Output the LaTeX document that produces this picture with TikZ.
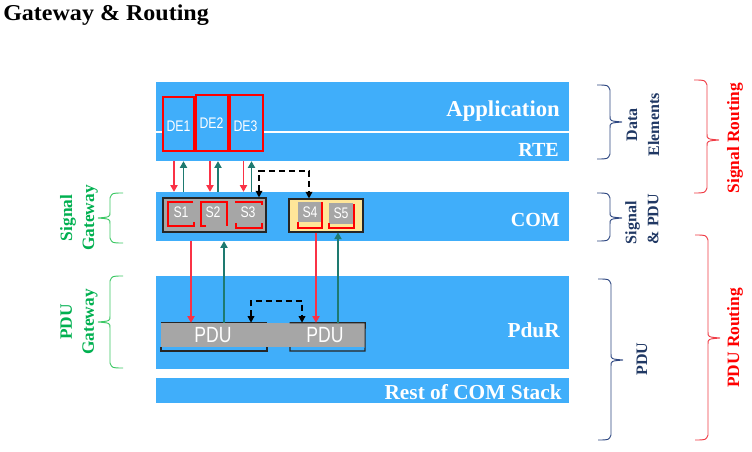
\documentclass[tikz,border=0pt]{standalone}
\usepackage{fontspec}
\setmainfont{Liberation Serif}
\newfontfamily\sansf[FakeStretch=0.8]{Liberation Sans}
\newfontfamily\titlef[FakeStretch=1.06]{Liberation Serif}
\usetikzlibrary{fit,arrows.meta}
\definecolor{barblue}{RGB}{64,174,250}
\definecolor{sgray}{RGB}{166,166,166}
\definecolor{syellow}{RGB}{255,230,153}
\definecolor{navyt}{RGB}{32,56,100}
\definecolor{navyb}{RGB}{47,72,130}
\definecolor{redt}{RGB}{255,0,0}
\definecolor{redb}{RGB}{240,60,70}
\definecolor{greent}{RGB}{0,176,80}
\definecolor{greenb}{RGB}{60,200,100}
\definecolor{arred}{RGB}{250,50,70}
\definecolor{argreen}{RGB}{30,122,112}
\newcommand\mybrace[6]{%
 \draw[#1, line width=0.7pt] (#2,#3) .. controls ({#2+#6*11},#3) .. ({#2+#6*13},{#3+5})
  -- ({#2+#6*13},{#5-6}) .. controls ({#2+#6*13},{#5-1}) .. ({#2+#6*25},#5)
  .. controls ({#2+#6*13},{#5+1}) .. ({#2+#6*13},{#5+6})
  -- ({#2+#6*13},{#4-5}) .. controls ({#2+#6*11},#4) .. (#2,#4);}
\tikzset{
  bar/.style={fill=barblue, draw=none, inner sep=0pt},
  barlbl/.style={text=white, inner sep=0pt, anchor=base east},
  debox/.style={fill=barblue, draw=red, line width=0.8pt, inner sep=0pt},
  sbox/.style={draw=black!85, line width=0.8pt, inner sep=0pt},
  slbl/.style={text=white, inner sep=0pt, font=\sansf\fontsize{11.5}{12}\selectfont},
  sq/.style={fill=sgray, inner sep=0pt, minimum width=18pt, minimum height=15pt, text=white, font=\sansf\fontsize{11.5}{12}\selectfont},
  redbr/.style={draw=red, line width=0.8pt},
  redarr/.style={draw=arred, line width=0.8pt, -{Triangle[width=5.5pt,length=5pt]}},
  greenarr/.style={draw=argreen, line width=0.8pt, -{Triangle[width=5.5pt,length=5pt]}},
  dasharr/.style={draw=black, line width=1pt, dash pattern=on 4.5pt off 3pt, {Triangle[width=5pt,length=5pt]}-{Triangle[width=5pt,length=5pt]}},
  navytxt/.style={text=navyt, font=\bfseries\fontsize{12}{16.5}\selectfont, inner sep=0pt},
  redtxt/.style={text=redt, font=\bfseries\fontsize{13}{16}\selectfont, inner sep=0pt},
  greentxt/.style={text=greent, font=\bfseries\fontsize{13}{16.5}\selectfont, inner sep=0pt},
  pdulbl/.style={text=white, font=\sansf\fontsize{16.5}{18}\selectfont, inner sep=0pt}
}
\begin{document}
\begin{tikzpicture}[x=0.75pt,y=-0.75pt]
\useasboundingbox (0,0) rectangle (752,452);
\fill[white] (0,0) rectangle (752,452);
% title
\node[anchor=base west, inner sep=0pt, font=\titlef\bfseries\fontsize{17}{20}\selectfont] (title) at (3,21) {Gateway \& Routing};
% bars
\node[bar, fit={(156,82) (569,131.5)}] (app) {};
\node[bar, fit={(156,133.5) (569,161)}] (rte) {};
\node[bar, fit={(156,192) (569,241)}] (com) {};
\node[bar, fit={(156,276) (569,369)}] (pdur) {};
\node[bar, fit={(156,378) (569,403)}] (rest) {};
\node[barlbl, font=\bfseries\fontsize{17}{20}\selectfont] (applbl) at (560,117) {Application};
\node[barlbl, font=\bfseries\fontsize{15}{18}\selectfont] (rtelbl) at (559,157) {RTE};
\node[barlbl, font=\bfseries\fontsize{15}{18}\selectfont] (comlbl) at (560,227) {COM};
\node[barlbl, font=\bfseries\fontsize{16}{19}\selectfont] (pdurlbl) at (560,337) {PduR};
\node[barlbl, font=\bfseries\fontsize{16}{19}\selectfont] (restlbl) at (562,399) {Rest of COM Stack};
% data elements
\node[debox, fit={(163,97) (194,151)}] (de1) {};
\node[debox, fit={(196,95) (228,151)}] (de2) {};
\node[debox, fit={(230,95) (263,151)}] (de3) {};
\node[slbl] (de1t) at (178.5,126) {DE1};
\node[slbl] (de2t) at (211.5,123) {DE2};
\node[slbl] (de3t) at (245.5,126) {DE3};
% COM boxes
\node[sbox, fill=sgray, fit={(163,198) (266,232)}] (gbox) {};
\node[sbox, fill=syellow, fit={(289,199) (363,232)}] (ybox) {};
\node[slbl] (s1) at (181,212) {S1};
\node[slbl] (s2) at (213,212) {S2};
\node[slbl] (s3) at (248,212) {S3};
\node[sq] (s4) at (310,212) {S4};
\node[sq] (s5) at (341,213.5) {S5};
% red brackets
\draw[redbr] (193,202) -- (168,202) -- (168,226) -- (194,226) -- (194,222);
\draw[redbr] (206,226) -- (201,226) -- (201,202) -- (227,202) -- (227,226);
\draw[redbr] (235,202) -- (262,202) -- (262,205);
\draw[redbr] (236,223) -- (236,228) -- (262,228) -- (262,223);
\draw[redbr] (322,202) -- (322,228) -- (298,228) -- (298,222);
\draw[redbr] (354,204) -- (354,228) -- (329,228) -- (329,223);
% PDU boxes
\fill[sgray] (161,323) rectangle (365,347);
\node[inner sep=0pt, fit={(161,323) (267,347)}] (pduL) {};
\node[inner sep=0pt, fit={(290,323) (365,347)}] (pduR) {};
\draw[black!85, line width=0.8pt] (pduL.north west) -- (pduL.north east);
\draw[black!85, line width=0.8pt] (161,347) -- (161,351) -- (267,351) -- (267,347);
\draw[black!85, line width=0.8pt] (pduR.north west) -- (pduR.north east) -- (365,351) -- (290,351) -- (290,347);
\node[pdulbl] (pduLt) at (213,335) {PDU};
\node[pdulbl] (pduRt) at (325,335) {PDU};
% arrow x positions
\coordinate (xa) at (174,0); \coordinate (xb) at (183.5,0);
\coordinate (xc) at (210,0); \coordinate (xd) at (218,0);
\coordinate (xe) at (243.5,0); \coordinate (xf) at (251.5,0);
\coordinate (xg) at (191,0); \coordinate (xh) at (224,0);
\coordinate (xi) at (316,0); \coordinate (xj) at (338,0);
\coordinate (d1) at (259,0); \coordinate (d2) at (309,0);
\coordinate (d3) at (251,0); \coordinate (d4) at (302,0);
\coordinate (dtop) at (0,171); \coordinate (dbot) at (0,301);
% RTE <-> COM
\draw[redarr] (rte.south -| xa) -- (com.north -| xa);
\draw[greenarr] (com.north -| xb) -- (rte.south -| xb);
\draw[redarr] (rte.south -| xc) -- (com.north -| xc);
\draw[greenarr] (com.north -| xd) -- (rte.south -| xd);
\draw[redarr] (rte.south -| xe) -- (com.north -| xe);
\draw[greenarr] (com.north -| xf) -- (rte.south -| xf);
\draw[dasharr] (gbox.north -| d1) -- (d1 |- dtop) -- (d2 |- dtop) -- (ybox.north -| d2);
% COM <-> PduR
\draw[redarr] (com.south -| xg) -- (pduL.north -| xg);
\draw[greenarr] (pduL.north -| xh) -- (com.south -| xh);
\draw[redarr] (ybox.south -| xi) -- (pduR.north -| xi);
\draw[greenarr] (pduR.north -| xj) -- (ybox.south -| xj);
\draw[dasharr] (pduL.north -| d3) -- (d3 |- dbot) -- (d4 |- dbot) -- (pduR.north -| d4);
% braces
\mybrace{navyb}{597}{85}{159}{122}{1}
\mybrace{navyb}{597}{193}{241}{218}{1}
\mybrace{navyb}{598}{279}{440}{360}{1}
\mybrace{redb}{694}{80}{193}{140}{1}
\mybrace{redb}{695}{235}{440}{338}{1}
\mybrace{greenb}{123}{193}{243}{218}{(-1)}
\mybrace{greenb}{123}{276}{368}{322}{(-1)}
% side labels
\node[navytxt, rotate=90, align=center] (delbl) at (643,125) {Data\\Elements};
\node[navytxt, rotate=90, align=left] (splbl) at (642,219) {Signal\\\& PDU};
\node[navytxt, rotate=90] (pdulbl) at (642,359) {PDU};
\node[redtxt, rotate=90] (srlbl) at (735,138) {Signal Routing};
\node[redtxt, rotate=90] (prlbl) at (735,338) {PDU Routing};
\node[greentxt, rotate=90, align=center] (sglbl) at (79,218) {Signal\\Gateway};
\node[greentxt, rotate=90, align=center] (pglbl) at (79,322) {PDU\\Gateway};
\end{tikzpicture}
\end{document}
